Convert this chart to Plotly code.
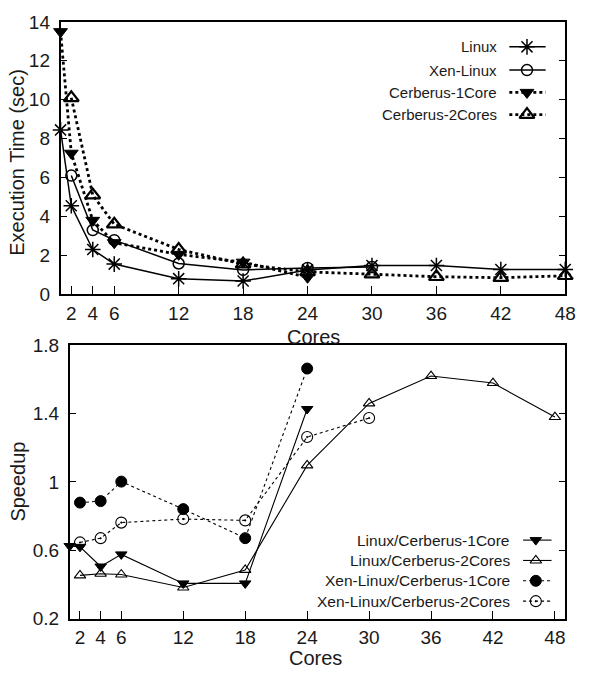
import plotly.graph_objects as go

# ---------------- data ----------------
# Top: execution time (sec)
linux_cores = [1, 2, 4, 6, 12, 18, 24, 30, 36, 42, 48]
linux_time = [8.45, 4.55, 2.3, 1.55, 0.8, 0.68, 1.25, 1.48, 1.48, 1.27, 1.27]
xen_cores = [2, 4, 6, 12, 18, 24, 30]
xen_time = [6.1, 3.3, 2.78, 1.58, 1.25, 1.35, 1.4]
c1_cores = [1, 2, 4, 6, 12, 18, 24]
c1_time = [13.5, 7.25, 3.8, 2.65, 2.05, 1.65, 0.87]
c2_cores = [2, 4, 6, 12, 18, 24, 30, 36, 42, 48]
c2_time = [10.1, 5.1, 3.6, 2.3, 1.55, 1.15, 1.03, 0.9, 0.85, 0.95]

# Bottom: speedup
lc1_cores = [1, 2, 4, 6, 12, 18, 24]
lc1_speedup = [0.625, 0.62, 0.505, 0.576, 0.406, 0.406, 1.427]
lc2_cores = [2, 4, 6, 12, 18, 24, 30, 36, 42, 48]
lc2_speedup = [0.453, 0.463, 0.458, 0.382, 0.485, 1.097, 1.46, 1.62, 1.579, 1.38]
xc1_cores = [2, 4, 6, 12, 18, 24]
xc1_speedup = [0.879, 0.888, 1.002, 0.841, 0.671, 1.664]
xc2_cores = [2, 4, 6, 12, 18, 24, 30]
xc2_speedup = [0.646, 0.671, 0.762, 0.783, 0.775, 1.263, 1.374]

x_tick_vals = [2, 4, 6, 12, 18, 24, 30, 36, 42, 48]
top_y_ticks = [0, 2, 4, 6, 8, 10, 12, 14]
bot_y_ticks = [0.2, 0.6, 1.0, 1.4, 1.8]
bot_y_labels = ["0.2", "0.6", "1", "1.4", "1.8"]

top_names = ["Linux", "Xen-Linux", "Cerberus-1Core", "Cerberus-2Cores"]
bot_names = ["Linux/Cerberus-1Core", "Linux/Cerberus-2Cores",
             "Xen-Linux/Cerberus-1Core", "Xen-Linux/Cerberus-2Cores"]

# ---------------- style ----------------
W, H = 590, 680
FONT = "Liberation Sans, Arial, sans-serif"
BLACK = "black"
TXT = "#1a1a1a"


def px(x):
    return x / W


def py(y):
    return 1 - y / H


top_styles = [
    dict(line=dict(color=BLACK, width=1.5), marker=dict(symbol="asterisk-open", size=13, color=BLACK, line=dict(color=BLACK, width=1.5))),
    dict(line=dict(color=BLACK, width=1.5), marker=dict(symbol="circle-open", size=11, color=BLACK, line=dict(color=BLACK, width=1.5))),
    dict(line=dict(color=BLACK, width=2.8, dash="dot"), marker=dict(symbol="triangle-down", size=12, color=BLACK, line=dict(color=BLACK, width=1))),
    dict(line=dict(color=BLACK, width=2.8, dash="dot"), marker=dict(symbol="triangle-up-open", size=13, color=BLACK, line=dict(color=BLACK, width=2.2))),
]
bot_styles = [
    dict(line=dict(color=BLACK, width=1.1), marker=dict(symbol="triangle-down", size=10, color=BLACK, line=dict(color=BLACK, width=1))),
    dict(line=dict(color=BLACK, width=1.1), marker=dict(symbol="triangle-up-open", size=10, color=BLACK, line=dict(color=BLACK, width=1.1))),
    dict(line=dict(color=BLACK, width=1.1, dash="3px,3px"), marker=dict(symbol="circle", size=11, color=BLACK, line=dict(color=BLACK, width=1))),
    dict(line=dict(color=BLACK, width=1.1, dash="3px,3px"), marker=dict(symbol="circle-open-dot", size=11, color=BLACK, line=dict(color=BLACK, width=1.1))),
]

fig = go.Figure()

top_series = [(linux_cores, linux_time), (xen_cores, xen_time), (c1_cores, c1_time), (c2_cores, c2_time)]
for (xs, ys), st, nm in zip(top_series, top_styles, top_names):
    fig.add_trace(go.Scatter(x=xs, y=ys, mode="lines+markers", name=nm, xaxis="x", yaxis="y",
                             cliponaxis=False, showlegend=False, **st))

bot_series = [(lc1_cores, lc1_speedup), (lc2_cores, lc2_speedup), (xc1_cores, xc1_speedup), (xc2_cores, xc2_speedup)]
for (xs, ys), st, nm in zip(bot_series, bot_styles, bot_names):
    fig.add_trace(go.Scatter(x=xs, y=ys, mode="lines+markers", name=nm, xaxis="x2", yaxis="y2",
                             cliponaxis=False, showlegend=False, **st))

# ---------------- custom gnuplot-style keys (text left, sample right) ----------------
annotations = []
top_key_rows = [38, 62, 85, 108]
for nm, st, ry in zip(top_names, top_styles, top_key_rows):
    fig.add_trace(go.Scatter(x=[519, 556], y=[ry, ry], mode="lines", line=st["line"],
                             xaxis="x3", yaxis="y3", showlegend=False, hoverinfo="skip", cliponaxis=False))
    fig.add_trace(go.Scatter(x=[537], y=[ry], mode="markers", marker=st["marker"],
                             xaxis="x3", yaxis="y3", showlegend=False, hoverinfo="skip", cliponaxis=False))
    annotations.append(dict(text=nm, x=px(508), y=py(ry), xref="paper", yref="paper", xanchor="right",
                            yanchor="middle", showarrow=False, font=dict(family=FONT, size=15, color=TXT)))

bot_key_rows = [547, 568, 589, 610]
for nm, st, ry in zip(bot_names, bot_styles, bot_key_rows):
    fig.add_trace(go.Scatter(x=[533, 562], y=[ry, ry], mode="lines", line=st["line"],
                             xaxis="x3", yaxis="y3", showlegend=False, hoverinfo="skip", cliponaxis=False))
    fig.add_trace(go.Scatter(x=[546], y=[ry], mode="markers", marker=st["marker"],
                             xaxis="x3", yaxis="y3", showlegend=False, hoverinfo="skip", cliponaxis=False))
    annotations.append(dict(text=nm, x=px(522), y=py(ry), xref="paper", yref="paper", xanchor="right",
                            yanchor="middle", showarrow=False, font=dict(family=FONT, size=15.5, color=TXT)))

# axis titles
title_font = dict(family=FONT, size=20, color=TXT)
annotations += [
    dict(text="Execution Time (sec)", x=px(17), y=py(157), xref="paper", yref="paper", textangle=-90,
         showarrow=False, font=title_font, xanchor="center", yanchor="middle"),
    dict(text="Cores", x=px(319), y=py(337), xref="paper", yref="paper", showarrow=False, font=title_font,
         xanchor="center", yanchor="middle"),
    dict(text="Speedup", x=px(18), y=py(487), xref="paper", yref="paper", textangle=-90,
         showarrow=False, font=title_font, xanchor="center", yanchor="middle"),
    dict(text="Cores", x=px(322), y=py(669), xref="paper", yref="paper", showarrow=False, font=title_font,
         xanchor="center", yanchor="middle"),
]

tick_font = dict(family=FONT, size=19, color=TXT)
common_x = dict(tickmode="array", tickvals=x_tick_vals, ticks="inside", ticklen=8, tickwidth=1.2,
                tickcolor=BLACK, showline=True, linecolor=BLACK, linewidth=1.5, mirror=True,
                showgrid=False, zeroline=False, tickfont=tick_font, ticklabelstandoff=1)
common_y = dict(ticks="inside", ticklen=7, tickwidth=1.2, tickcolor=BLACK, showline=True,
                linecolor=BLACK, linewidth=1.5, mirror="ticks", showgrid=False, zeroline=False,
                tickfont=tick_font, ticklabelstandoff=5)

fig.update_layout(
    width=W, height=H,
    margin=dict(l=0, r=0, t=0, b=0),
    paper_bgcolor="white", plot_bgcolor="rgba(0,0,0,0)",
    showlegend=False,
    font=dict(family=FONT, color=BLACK),
    xaxis=dict(domain=[px(61.7), px(576)], range=[1, 48], anchor="y", **common_x),
    yaxis=dict(domain=[py(293.3), py(12.3)], range=[0, 14], anchor="x", tickmode="array",
               tickvals=top_y_ticks, **common_y),
    xaxis2=dict(domain=[px(71), px(576)], range=[1, 49], anchor="y2", **common_x),
    yaxis2=dict(domain=[py(628), py(346)], range=[0.2, 1.8], anchor="x2", tickmode="array",
                tickvals=bot_y_ticks, ticktext=bot_y_labels, **common_y),
    xaxis3=dict(domain=[0, 1], range=[0, W], anchor="y3", visible=False, fixedrange=True),
    yaxis3=dict(domain=[0, 1], range=[H, 0], anchor="x3", visible=False, fixedrange=True),
    annotations=annotations,
)

fig.write_html("out.html")
